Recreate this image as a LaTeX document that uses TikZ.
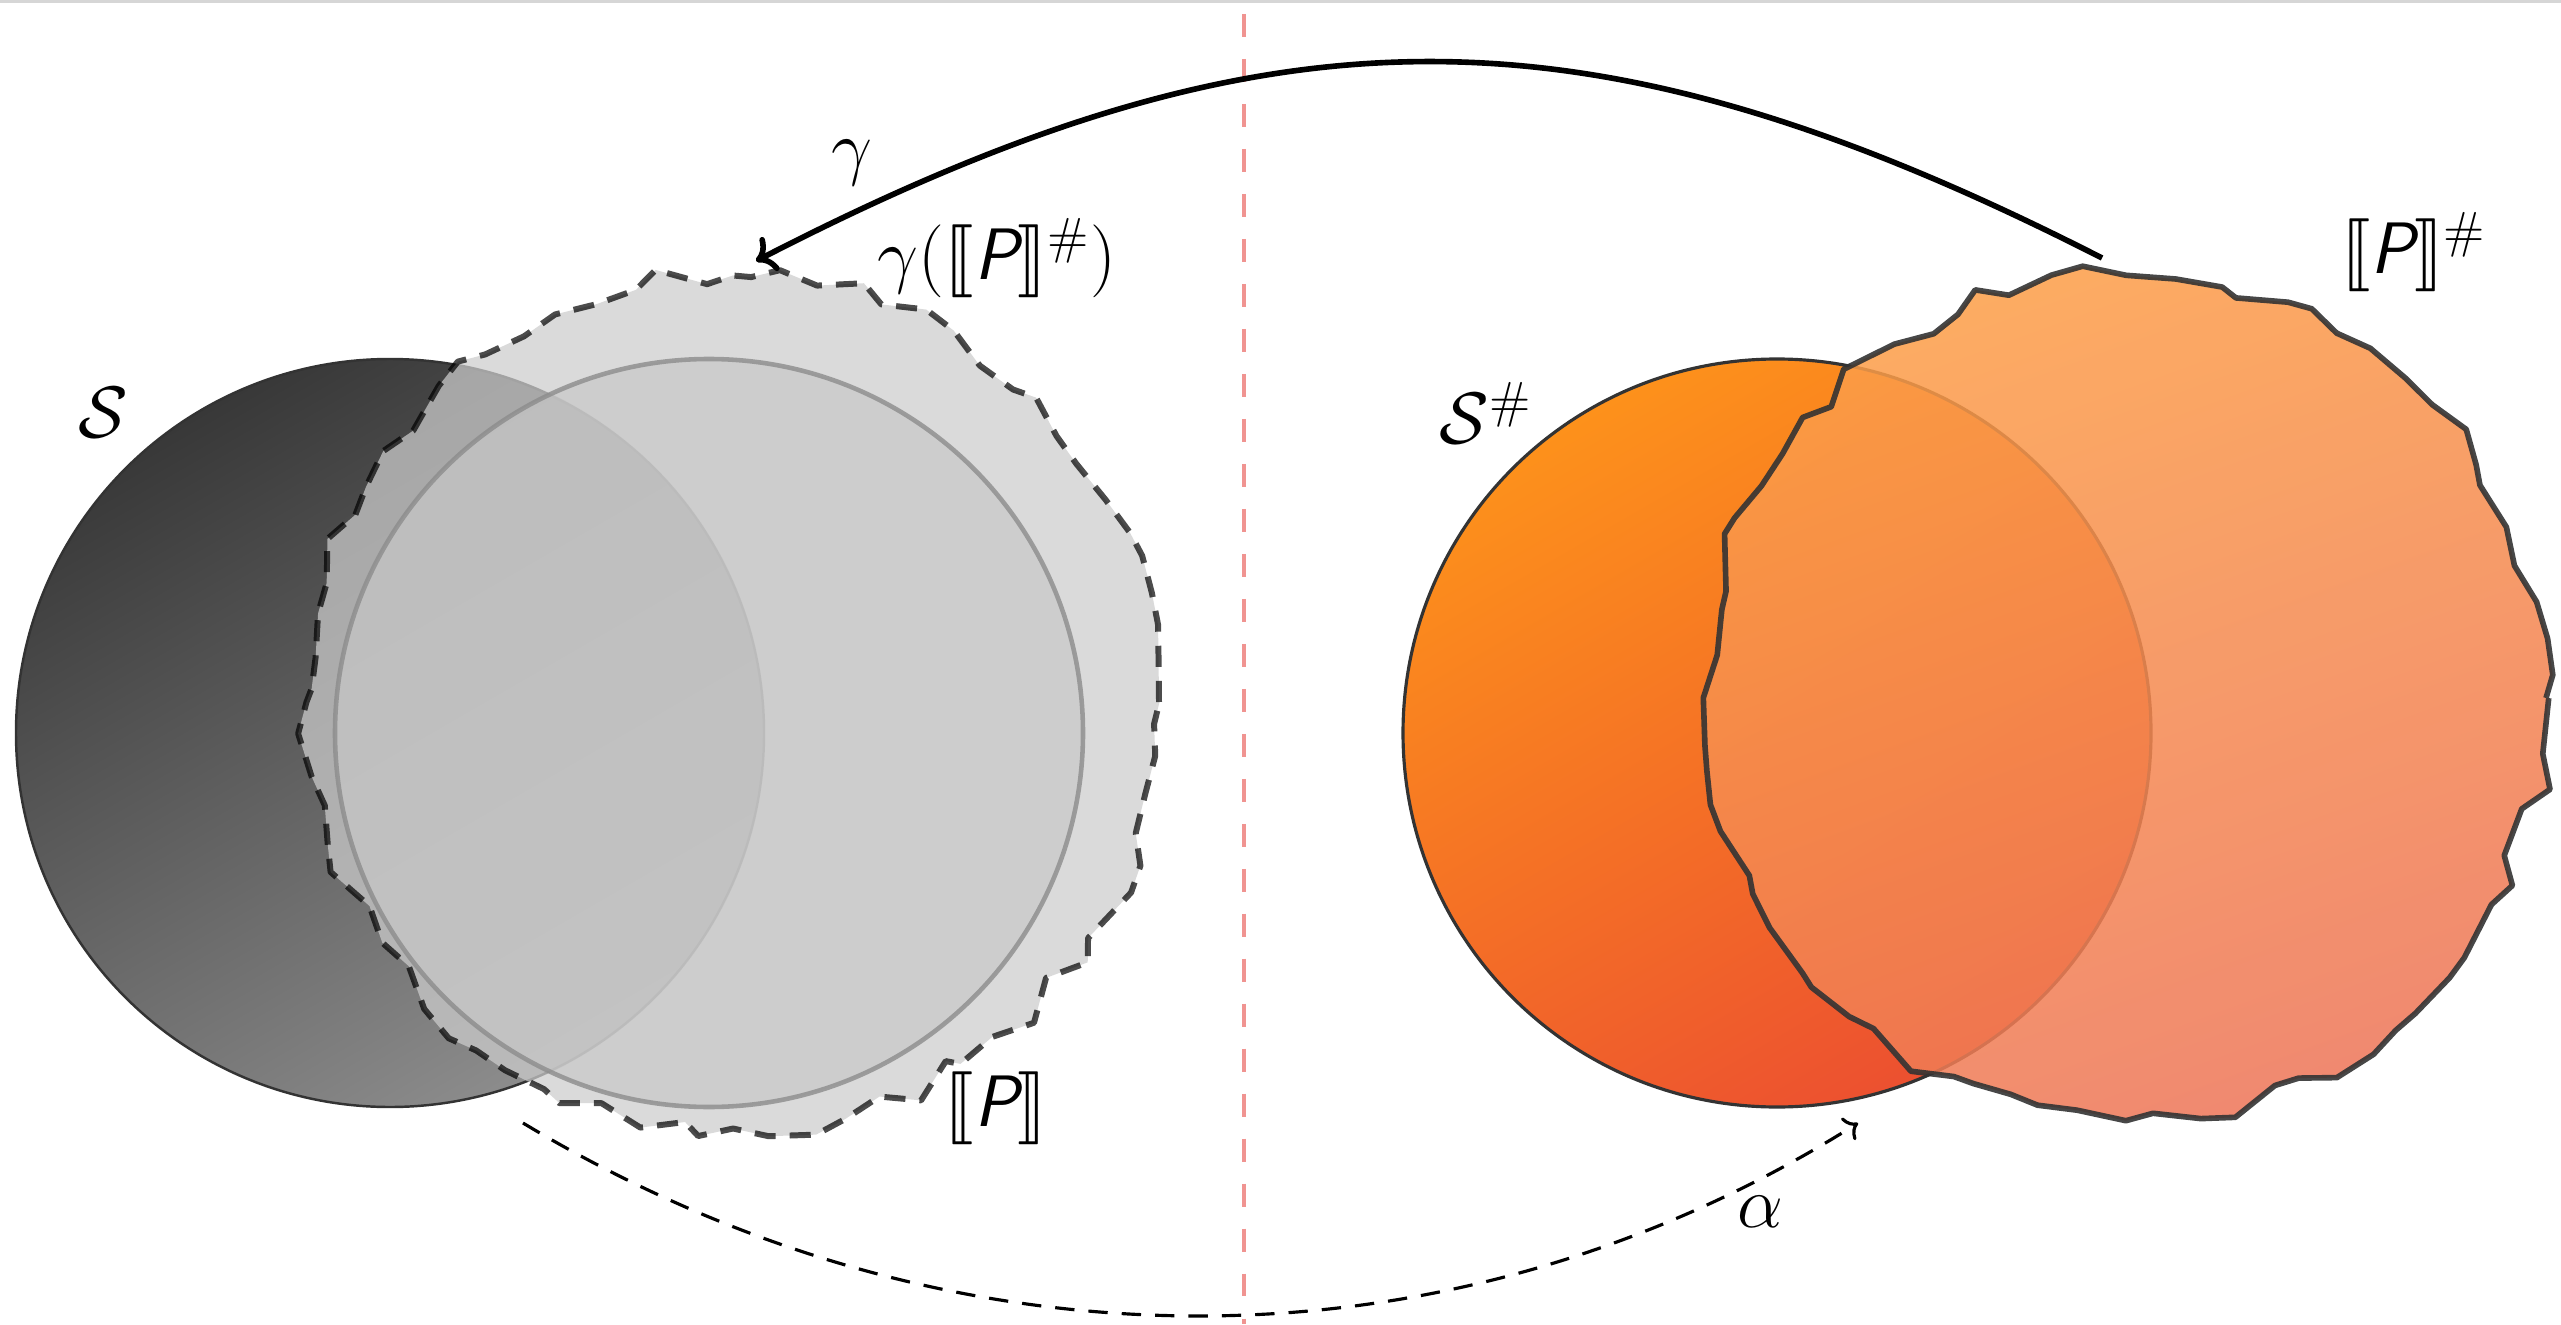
\documentclass[tikz,border=0pt]{standalone}
\usepackage{amssymb}
\usepackage{stmaryrd}
\usetikzlibrary{arrows.meta,decorations.pathmorphing}

\definecolor{splitline}{RGB}{240,148,145}
\definecolor{orangetop}{RGB}{253,145,27}
\definecolor{orangebot}{RGB}{236,80,48}
\definecolor{blobtop}{RGB}{252,158,72}
\definecolor{blobbot}{RGB}{238,118,88}

% semantic brackets with a sans slanted letter
\newcommand{\semb}[1]{\llbracket\textsf{\itshape #1}\rrbracket}

\tikzset{
  wobbly/.style={decorate,decoration={random steps,segment length=3.6mm,amplitude=1.3mm}},
  lbl/.style={inner sep=1pt},
}

\begin{document}
\begin{tikzpicture}[>={To},font=\fontsize{20.74}{25}\selectfont,line join=round]
\useasboundingbox (0,0) rectangle (25.61,13.24);
\fill[black!16] (0,13.21) rectangle (25.61,13.24);

% concrete side
\shade[top color=black!78,bottom color=black!45,shading angle=30,
       draw=black!80,line width=0.7pt] (3.90,5.91) circle (3.74);
\pgfmathsetseed{11}
\path[wobbly,fill=black!20,fill opacity=0.73,draw=black,draw opacity=0.7,
      line width=1.7pt,dash pattern=on 6pt off 4pt] (7.33,6.22) circle (4.26);
\path[fill=black!22,fill opacity=0.7,draw=black!45,draw opacity=0.8,
      line width=1.3pt] (7.09,5.91) circle (3.74);

% abstract side
\shade[top color=orangetop,bottom color=orangebot,shading angle=30,
       draw=black!80,line width=0.9pt] (17.77,5.91) circle (3.74);
\pgfmathsetseed{23}
\path[wobbly,top color=blobtop,bottom color=blobbot,shading angle=20,
      fill opacity=0.86,draw=black!80,draw opacity=0.9,line width=1.6pt]
      (21.26,6.26) circle (4.2);

% the split between both worlds
\draw[splitline,line width=1.4pt,dash pattern=on 6.5pt off 6.3pt]
  (12.44,13.1) -- (12.44,0);

% labels
\node[lbl] (S)      at (1.03,9.11)  {$\mathcal{S}$};
\node[lbl] (Sabs)   at (14.86,9.11) {$\mathcal{S}^{\#}$};
\node[lbl] (gam)    at (8.52,11.61) {$\gamma$};
\node[lbl] (gamP)   at (9.97,10.66) {$\gamma(\semb{P}^{\#})$};
\node[lbl] (Pabs)   at (24.14,10.72) {$\semb{P}^{\#}$};
\node[lbl] (P)      at (9.96,2.16)  {$\semb{P}$};
\node[lbl] (alp)    at (17.60,1.12) {$\alpha$};

% maps
\coordinate (gfrom) at (21.02,10.66);
\coordinate (gto)   at (7.56,10.63);
\coordinate (afrom) at (5.23,2.01);
\coordinate (ato)   at (18.58,2.01);
\draw[->,line width=1.6pt] (gfrom) .. controls (15.88,13.28) and (12.70,13.28) .. (gto);
\draw[->,line width=0.9pt,dash pattern=on 5.5pt off 4pt]
  (afrom) .. controls (9.5,-0.56) and (14.5,-0.56) .. (ato);
\end{tikzpicture}
\end{document}
